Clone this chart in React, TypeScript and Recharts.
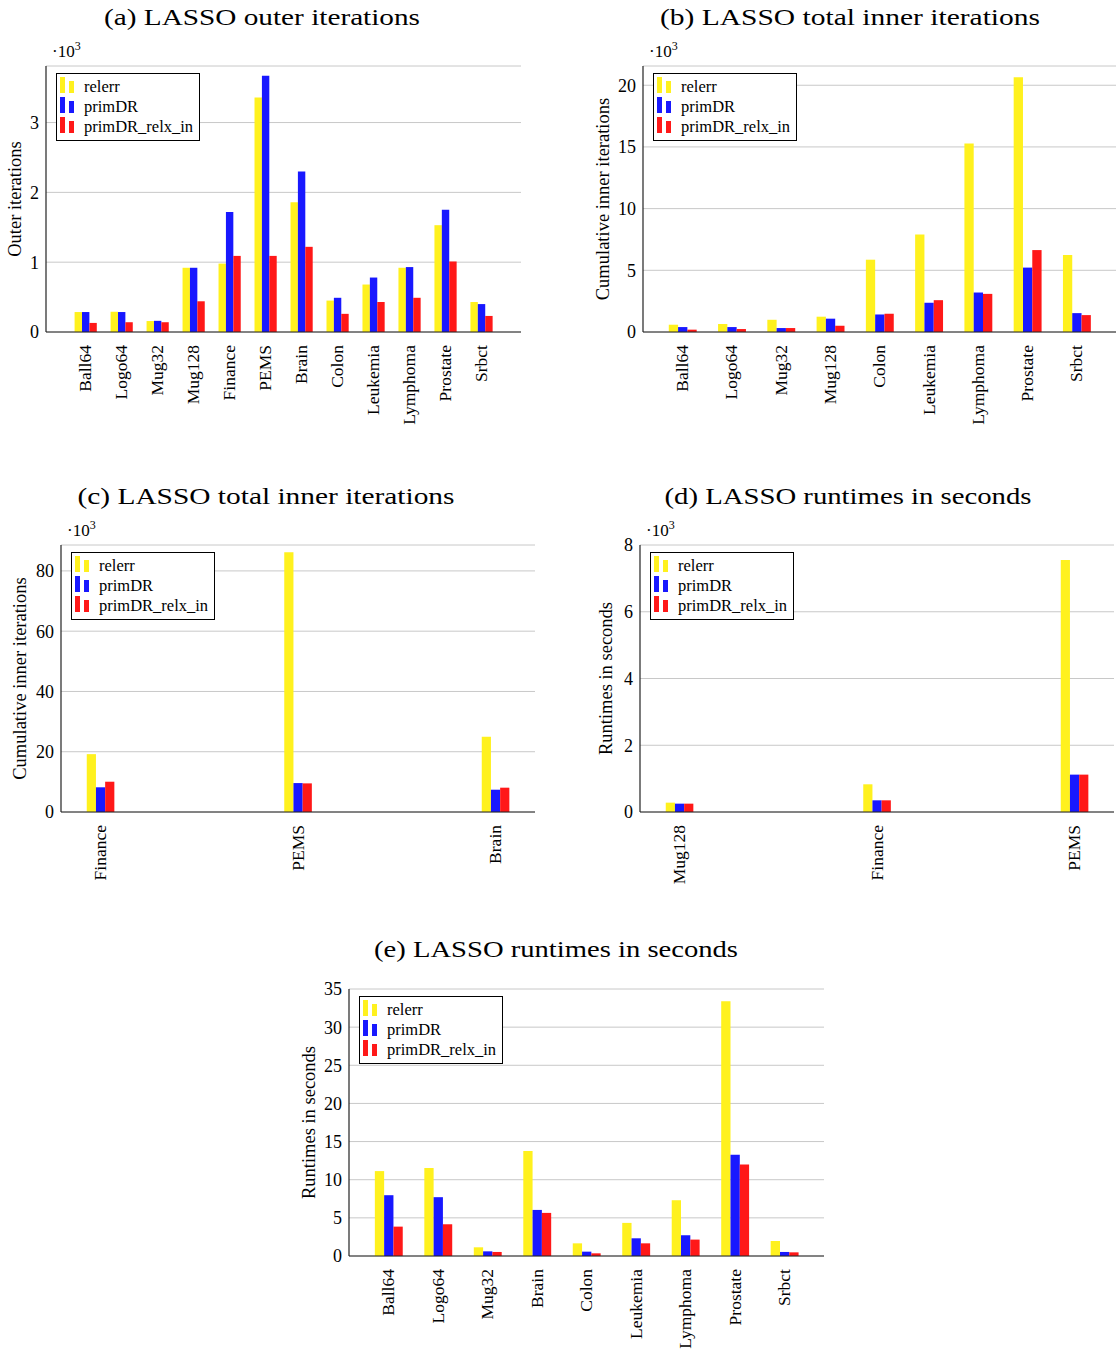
import React from "react";
import { BarChart, Bar, XAxis, YAxis, CartesianGrid, Legend } from "recharts";

const FONT = "'Liberation Serif', 'Times New Roman', serif";
const YELLOW = "#FFF11E";
const BLUE = "#1818FF";
const RED = "#FF1818";
const seriesOrder = ["relerr", "primDR", "primDR_relx_in"];

// (a) LASSO outer iterations (x10^3)
const catsA = ["Ball64", "Logo64", "Mug32", "Mug128", "Finance", "PEMS", "Brain", "Colon", "Leukemia", "Lymphoma", "Prostate", "Srbct"];
const relerrA = [0.286, 0.29, 0.157, 0.92, 0.98, 3.36, 1.86, 0.45, 0.68, 0.92, 1.53, 0.43];
const primDRA = [0.286, 0.286, 0.16, 0.92, 1.72, 3.67, 2.3, 0.49, 0.78, 0.93, 1.75, 0.4];
const relxA = [0.13, 0.14, 0.14, 0.44, 1.09, 1.09, 1.22, 0.26, 0.43, 0.49, 1.01, 0.23];
const ticksA = [0, 1, 2, 3];

// (b) LASSO total inner iterations (x10^3)
const catsB = ["Ball64", "Logo64", "Mug32", "Mug128", "Colon", "Leukemia", "Lymphoma", "Prostate", "Srbct"];
const relerrB = [0.59, 0.65, 0.99, 1.24, 5.86, 7.9, 15.27, 20.65, 6.24];
const primDRB = [0.4, 0.4, 0.32, 1.08, 1.42, 2.37, 3.2, 5.22, 1.53];
const relxB = [0.19, 0.24, 0.32, 0.51, 1.48, 2.58, 3.09, 6.64, 1.37];
const ticksB = [0, 5, 10, 15, 20];

// (c) LASSO total inner iterations (x10^3)
const catsC = ["Finance", "PEMS", "Brain"];
const relerrC = [19.2, 86.2, 24.97];
const primDRC = [8.2, 9.6, 7.4];
const relxC = [10.05, 9.5, 8.07];
const ticksC = [0, 20, 40, 60, 80];

// (d) LASSO runtimes in seconds (x10^3)
const catsD = ["Mug128", "Finance", "PEMS"];
const relerrD = [0.28, 0.83, 7.55];
const primDRD = [0.25, 0.35, 1.12];
const relxD = [0.25, 0.35, 1.12];
const ticksD = [0, 2, 4, 6, 8];

// (e) LASSO runtimes in seconds
const catsE = ["Ball64", "Logo64", "Mug32", "Brain", "Colon", "Leukemia", "Lymphoma", "Prostate", "Srbct"];
const relerrE = [11.13, 11.52, 1.14, 13.75, 1.66, 4.34, 7.31, 33.38, 1.97];
const primDRE = [7.97, 7.71, 0.61, 6.04, 0.57, 2.32, 2.72, 13.27, 0.53];
const relxE = [3.85, 4.16, 0.53, 5.65, 0.35, 1.66, 2.15, 12.0, 0.48];
const ticksE = [0, 5, 10, 15, 20, 25, 30, 35];

type Box = { L: number; R: number; T: number; B: number };

const XTick = (props: any) => {
  const { x, y, payload, cats } = props;
  return (
    <text
      x={x}
      y={y}
      dx={-13}
      dy="0.33em"
      transform={`rotate(-90 ${x} ${y})`}
      textAnchor="end"
      fontFamily={FONT}
      fontSize={17.5}
      fill="#000"
    >
      {cats[payload.value]}
    </text>
  );
};

const LegendBox = (props: any) => {
  const items = [...(props.payload || [])].sort(
    (a: any, b: any) => seriesOrder.indexOf(a.value) - seriesOrder.indexOf(b.value)
  );
  return (
    <div
      style={{
        boxSizing: "border-box",
        width: 144,
        border: "1px solid #000",
        background: "#fff",
        padding: "3px 0 3px 3px",
        fontFamily: FONT,
        fontSize: 16.5,
        lineHeight: "20px",
        color: "#000",
      }}
    >
      {items.map((p: any) => (
        <div key={p.value} style={{ display: "flex", alignItems: "center", height: 20 }}>
          <svg width={24} height={20} style={{ flex: "none" }}>
            <rect x={0} y={0} width={5} height={16} fill={p.color} />
            <rect x={9} y={4} width={5} height={12} fill={p.color} />
          </svg>
          <span>{p.value}</span>
        </div>
      ))}
    </div>
  );
};

function Panel({
  cats,
  relerr,
  primDR,
  relx,
  yMax,
  yTicks,
  box,
  left,
  yLabel,
  labelX,
  barSize,
}: {
  cats: string[];
  relerr: number[];
  primDR: number[];
  relx: number[];
  yMax: number;
  yTicks: number[];
  box: Box;
  left: number;
  yLabel: string;
  labelX: number;
  barSize: number;
}) {
  const mt = 10;
  const xh = 110;
  const top = box.T - mt;
  const yw = box.L - left;
  const width = yw + (box.R - box.L) + 2;
  const height = mt + (box.B - box.T) + xh;
  const n = cats.length;
  const pad = 0.1 * (n - 1);
  const xDomain = [-pad, n - 1 + pad];
  const data = cats.map((c, i) => ({ i, name: c, relerr: relerr[i], primDR: primDR[i], relx: relx[i] }));
  const lx = labelX - left;
  const ly = mt + (box.B - box.T) / 2;
  const frame = { stroke: "#222", strokeWidth: 1.2 };

  return (
    <div style={{ position: "absolute", left, top, width, height }}>
      <BarChart
        width={width}
        height={height}
        data={data}
        margin={{ top: mt, right: 2, left: 0, bottom: 0 }}
        barGap={0}
        barSize={barSize}
      >
        <CartesianGrid vertical={false} stroke="#c8c8c8" />
        <XAxis
          dataKey="i"
          type="number"
          domain={xDomain}
          ticks={cats.map((_, i) => i)}
          interval={0}
          allowDataOverflow
          height={xh}
          tickSize={0}
          tickMargin={0}
          tickLine={false}
          axisLine={frame}
          tick={<XTick cats={cats} />}
        />
        <XAxis
          xAxisId="top"
          orientation="top"
          type="number"
          domain={xDomain}
          allowDataOverflow
          height={0}
          tick={false}
          tickLine={false}
          axisLine={frame}
        />
        <YAxis
          type="number"
          domain={[0, yMax]}
          ticks={yTicks}
          interval={0}
          allowDataOverflow
          width={yw}
          tickSize={0}
          tickMargin={7}
          tickLine={false}
          axisLine={frame}
          tick={{ fontFamily: FONT, fontSize: 18, fill: "#000" }}
          label={{
            content: () => (
              <text
                x={lx}
                y={ly}
                transform={`rotate(-90 ${lx} ${ly})`}
                textAnchor="middle"
                dominantBaseline="central"
                fontFamily={FONT}
                fontSize={18.5}
                fill="#000"
              >
                {yLabel}
              </text>
            ),
          }}
        />
        <YAxis
          yAxisId="right"
          orientation="right"
          type="number"
          domain={[0, yMax]}
          allowDataOverflow
          width={0}
          tick={false}
          tickLine={false}
          axisLine={frame}
        />
        <Legend
          layout="vertical"
          align="center"
          verticalAlign="middle"
          content={<LegendBox />}
          wrapperStyle={{ left: box.L + 10 - left, top: mt + 7, width: "auto", height: "auto" }}
        />
        <Bar dataKey="relerr" name="relerr" fill={YELLOW} isAnimationActive={false} />
        <Bar dataKey="primDR" name="primDR" fill={BLUE} isAnimationActive={false} />
        <Bar dataKey="relx" name="primDR_relx_in" fill={RED} isAnimationActive={false} />
      </BarChart>
    </div>
  );
}

const boxA: Box = { L: 46, R: 521, T: 66, B: 332 };
const boxB: Box = { L: 643, R: 1116, T: 66, B: 332 };
const boxC: Box = { L: 61, R: 535, T: 545, B: 812 };
const boxD: Box = { L: 640, R: 1114, T: 545, B: 812 };
const boxE: Box = { L: 349, R: 824, T: 989, B: 1256 };

const titles = [
  { text: "(a) LASSO outer iterations", cx: 262, y: 25, w: 316 },
  { text: "(b) LASSO total inner iterations", cx: 850, y: 25, w: 380 },
  { text: "(c) LASSO total inner iterations", cx: 266, y: 504, w: 377 },
  { text: "(d) LASSO runtimes in seconds", cx: 848, y: 504, w: 367 },
  { text: "(e) LASSO runtimes in seconds", cx: 556, y: 957, w: 364 },
];

const scaled = [boxA, boxB, boxC, boxD];

export default function App() {
  return (
    <div style={{ position: "absolute", left: 0, top: 0, width: 1118, height: 1352, background: "#fff" }}>
      <Panel cats={catsA} relerr={relerrA} primDR={primDRA} relx={relxA} yMax={3.81} yTicks={ticksA}
        box={boxA} left={0} yLabel="Outer iterations" labelX={15} barSize={7.4} />
      <Panel cats={catsB} relerr={relerrB} primDR={primDRB} relx={relxB} yMax={21.56} yTicks={ticksB}
        box={boxB} left={580} yLabel="Cumulative inner iterations" labelX={603} barSize={9.3} />
      <Panel cats={catsC} relerr={relerrC} primDR={primDRC} relx={relxC} yMax={88.6} yTicks={ticksC}
        box={boxC} left={0} yLabel="Cumulative inner iterations" labelX={20} barSize={9.2} />
      <Panel cats={catsD} relerr={relerrD} primDR={primDRD} relx={relxD} yMax={8} yTicks={ticksD}
        box={boxD} left={580} yLabel="Runtimes in seconds" labelX={606} barSize={9.2} />
      <Panel cats={catsE} relerr={relerrE} primDR={primDRE} relx={relxE} yMax={35} yTicks={ticksE}
        box={boxE} left={290} yLabel="Runtimes in seconds" labelX={309} barSize={9.3} />
      <svg width={1118} height={1352} style={{ position: "absolute", left: 0, top: 0, pointerEvents: "none" }}>
        {titles.map((t) => (
          <text key={t.text} x={t.cx} y={t.y} textAnchor="middle" fontFamily={FONT} fontSize={24}
            textLength={t.w} lengthAdjust="spacingAndGlyphs" fill="#000">
            {t.text}
          </text>
        ))}
        {scaled.map((b, k) => (
          <text key={k} x={b.L + 6} y={b.T - 9} fontFamily={FONT} fontSize={17} fill="#000">
            ·10<tspan dy={-7} fontSize={12}>3</tspan>
          </text>
        ))}
      </svg>
    </div>
  );
}
